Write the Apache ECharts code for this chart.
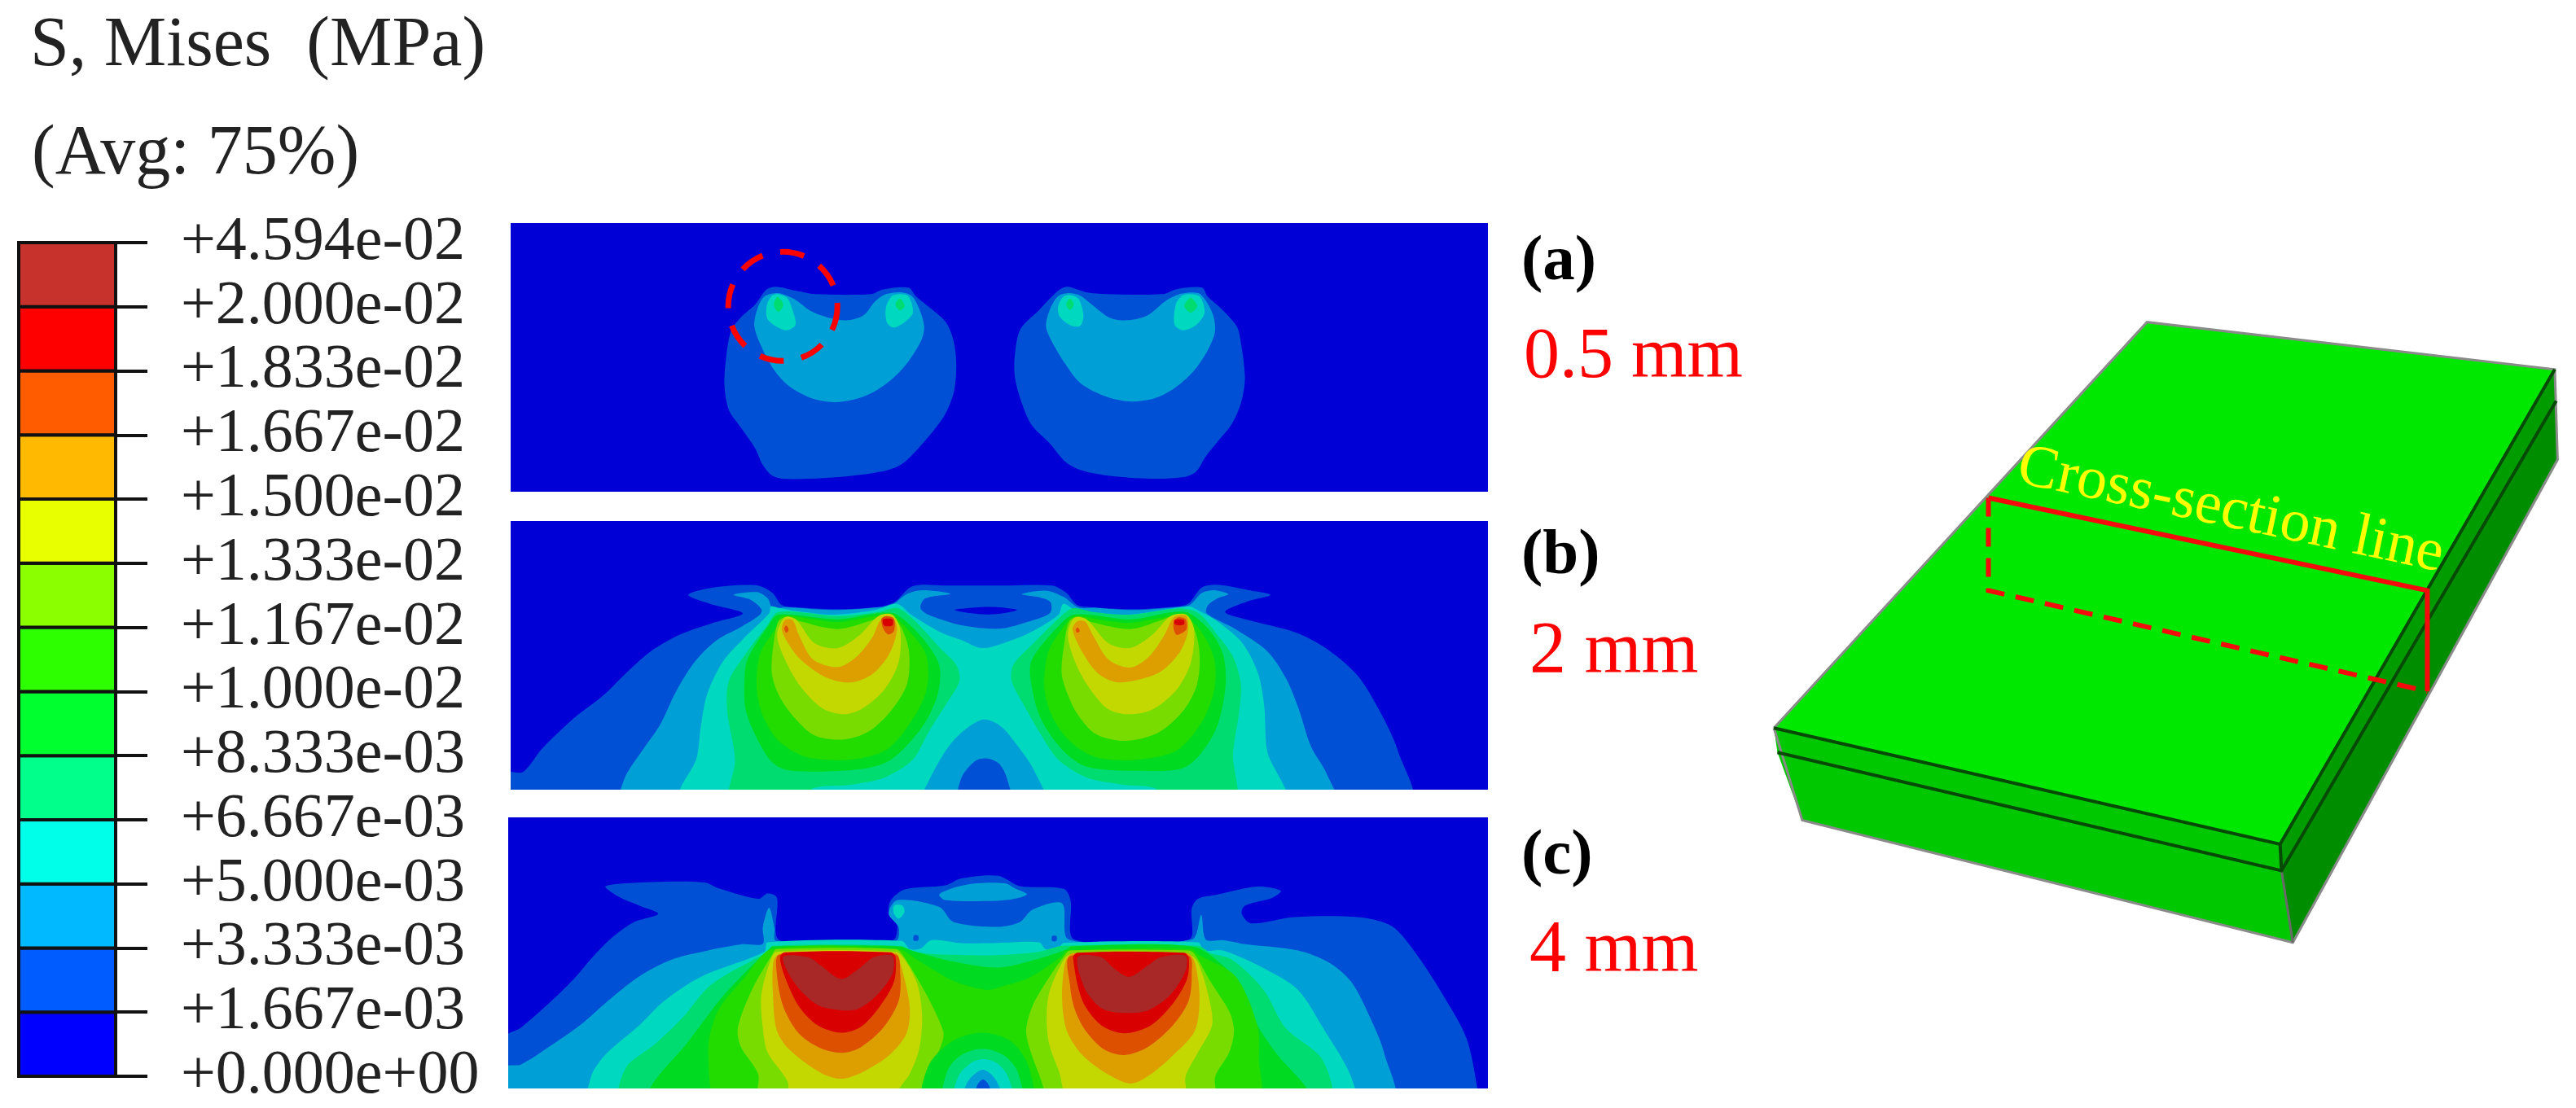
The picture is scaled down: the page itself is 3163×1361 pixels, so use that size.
<!DOCTYPE html>
<html><head><meta charset="utf-8">
<style>html,body{margin:0;padding:0;background:#fff}#c{width:3163px;height:1361px}</style>
<script src="https://cdn.jsdelivr.net/npm/echarts@6/dist/echarts.min.js"></script>
</head><body><div id="c"></div>
<script>
// ---------- legend ----------
const tickLabels = ['+0.000e+00','+1.667e-03','+3.333e-03','+5.000e-03','+6.667e-03','+8.333e-03','+1.000e-02','+1.167e-02','+1.333e-02','+1.500e-02','+1.667e-02','+1.833e-02','+2.000e-02','+4.594e-02'];
const legendColors = ['#0000ff','#005cff','#00b9ff','#00ffe8','#00ff8b','#00ff2e','#2eff00','#8bff00','#e8ff00','#ffb900','#ff5c00','#ff0000','#c8322d'];
const fieldColors  = ['#0000d6','#0050d6','#009fd6','#00d8c0','#00dc70','#00da20','#22dc00','#78dc00','#c2d800','#dd9f00','#dd5000','#d80000','#a82828'];
const titleLine1 = 'S, Mises  (MPa)';
const titleLine2 = '(Avg: 75%)';
const panelTags = ['(a)','(b)','(c)'];
const panelDepths = ['0.5 mm','2 mm','4 mm'];
const blockCaption = 'Cross-section line';

// ---------- panel (a): contour bands, level = index into fieldColors ----------
const A_L2 = [
 [[245,235],[300,250],[350,262],[500,262],[530,245],[600,238],[620,270],[660,315],[700,365],[720,430],[728,520],[722,620],[700,700],[670,760],[620,840],[580,890],[530,915],[420,935],[270,943],[235,930],[210,890],[190,830],[150,750],[120,690],[108,600],[112,500],[125,400],[150,350],[190,300],[220,245]],
 [[1025,235],[1075,255],[1130,262],[1280,262],[1320,243],[1385,238],[1400,270],[1440,320],[1478,380],[1488,430],[1500,570],[1490,660],[1465,740],[1430,800],[1395,860],[1370,915],[1340,935],[1250,942],[1130,930],[1060,910],[1020,880],[980,815],[930,745],[905,670],[885,570],[885,480],[900,390],[950,320],[1000,250]]
];
const A_L3 = [
 [[250,258],[275,268],[300,285],[340,325],[390,350],[440,358],[480,340],[510,290],[540,262],[580,255],[610,270],[630,320],[642,380],[635,430],[600,510],[560,570],[510,620],[460,648],[400,660],[340,645],[280,600],[240,540],[205,450],[188,380],[195,320],[215,270]],
 [[1030,258],[1060,268],[1090,300],[1140,350],[1190,358],[1240,340],[1290,285],[1330,260],[1375,258],[1395,285],[1415,340],[1420,400],[1400,470],[1360,550],[1310,610],[1260,645],[1195,658],[1130,640],[1060,590],[1020,520],[985,440],[968,380],[978,320],[1000,270]]
];
const A_L4 = [
 [[250,262],[275,275],[290,320],[298,375],[275,395],[245,380],[222,350],[222,300],[235,268]],
 [[575,262],[600,270],[612,330],[590,365],[560,385],[542,365],[540,310],[555,270]],
 [[1030,265],[1055,280],[1068,340],[1060,378],[1035,378],[1005,345],[1000,310],[1012,275]],
 [[1350,262],[1380,272],[1392,330],[1370,375],[1335,395],[1312,375],[1315,300],[1330,270]]
];
const A_L5 = [
 [[250,272],[265,300],[252,328],[240,300]],
 [[577,278],[590,305],[577,322],[565,300]],
 [[1032,278],[1042,300],[1032,320],[1022,300]],
 [[1355,275],[1372,305],[1355,330],[1338,305]]
];
const A_MARK = [[264,307,146]];

// ---------- panel (b) ----------
const B_L2 = [[[-10,928],[40,925],[100,840],[200,730],[300,640],[380,550],[450,480],[540,420],[650,375],[745,340],[640,305],[570,272],[650,245],[790,237],[840,265],[870,310],[920,318],[1040,325],[1170,318],[1230,300],[1290,240],[1400,238],[1568,238],[1738,238],[1783,265],[1818,310],[1868,318],[1988,325],[2108,318],[2173,305],[2218,245],[2268,235],[2368,255],[2438,272],[2368,295],[2293,335],[2368,365],[2518,410],[2618,470],[2718,570],[2798,720],[2848,850],[2883,1040],[-10,1040]]];
const B_SLIT = [[[1425,328],[1500,318],[1568,318],[1625,328],[1568,342],[1500,343]]];
const B_L3 = [[[358,1040],[365,950],[420,850],[480,750],[530,630],[590,520],[660,440],[740,390],[800,345],[805,325],[770,290],[715,272],[790,262],[825,285],[840,320],[880,318],[1040,328],[1180,318],[1225,308],[1270,270],[1320,255],[1410,268],[1330,285],[1315,320],[1340,345],[1450,385],[1568,397],[1650,375],[1730,340],[1733,300],[1700,282],[1640,270],[1720,257],[1775,280],[1820,318],[1880,320],[1990,328],[2110,320],[2178,310],[2218,265],[2258,255],[2303,270],[2268,285],[2238,310],[2233,340],[2328,400],[2428,480],[2488,580],[2528,690],[2568,830],[2618,930],[2643,1040]]];
const B_L4 = [[[540,1040],[545,985],[595,880],[610,760],[630,640],[680,520],[750,430],[830,340],[835,315],[860,320],[920,332],[1040,345],[1170,328],[1240,305],[1285,345],[1380,410],[1450,440],[1510,468],[1568,455],[1668,410],[1758,345],[1773,305],[1808,325],[1868,338],[1988,345],[2108,325],[2178,315],[2208,330],[2268,370],[2348,450],[2398,560],[2418,680],[2428,850],[2483,1040]]];
const B_ARCH_L3 = [[[1322,1040],[1345,950],[1420,810],[1510,733],[1568,752],[1628,830],[1680,920],[1713,1040]]];
const B_ARCH_L2 = [[[1440,1040],[1445,950],[1490,885],[1530,875],[1568,895],[1593,950],[1603,1040]]];
const B_L5 = [
 [[705,1040],[720,880],[695,700],[700,590],[760,480],[820,390],[860,335],[1050,350],[1180,335],[1240,320],[1290,360],[1380,470],[1430,530],[1440,590],[1400,670],[1340,780],[1290,880],[1200,945],[1090,972],[970,985],[940,1040]],
 [[2323,1040],[2318,860],[2338,700],[2343,600],[2318,500],[2268,420],[2208,340],[2148,322],[1988,345],[1868,335],[1803,322],[1758,360],[1678,450],[1613,530],[1608,590],[1648,680],[1698,780],[1758,880],[1848,945],[1968,972],[2068,985],[2098,1040]]
];
const B_L6 = [
 [[750,600],[760,510],[830,380],[860,345],[1050,362],[1190,338],[1240,345],[1320,430],[1375,530],[1370,640],[1320,760],[1220,880],[1120,915],[900,920],[840,890],[790,800],[755,700]],
 [[1668,580],[1673,510],[1748,400],[1808,345],[1988,362],[2128,335],[2178,340],[2248,410],[2288,500],[2293,620],[2258,780],[2168,905],[2018,920],[1848,905],[1768,840],[1698,720]]
];
const B_L7 = [
 [[790,620],[800,490],[850,395],[870,350],[960,360],[1050,372],[1170,350],[1220,345],[1290,420],[1335,500],[1335,620],[1290,730],[1210,840],[1100,878],[950,870],[860,810],[810,720]],
 [[1713,620],[1723,490],[1768,400],[1808,352],[1898,365],[1988,375],[2098,355],[2158,345],[2218,410],[2258,510],[2258,620],[2218,740],[2138,845],[2008,880],[1878,870],[1793,810],[1738,720]]
];
const B_L8 = [
 [[838,560],[845,440],[860,370],[890,352],[930,370],[1050,398],[1160,365],[1210,345],[1250,385],[1278,480],[1272,600],[1220,700],[1150,775],[1070,805],[975,790],[900,710],[860,640]],
 [[1768,560],[1778,440],[1793,370],[1823,352],[1863,372],[1988,398],[2088,365],[2143,345],[2188,385],[2210,480],[2203,600],[2158,700],[2078,780],[1973,810],[1878,785],[1818,710],[1788,640]]
];
const B_L9 = [
 [[855,420],[880,355],[915,362],[975,450],[1050,468],[1120,420],[1180,350],[1225,345],[1250,400],[1245,520],[1200,620],[1130,690],[1070,712],[1000,690],[930,610],[880,510]],
 [[1788,420],[1808,358],[1848,362],[1918,450],[1988,468],[2058,420],[2118,350],[2168,345],[2193,400],[2183,520],[2138,620],[2058,695],[1978,712],[1913,690],[1848,600],[1808,510]]
];
const B_L10 = [
 [[870,400],[880,365],[905,365],[925,420],[970,510],[1050,538],[1110,500],[1160,430],[1190,360],[1225,355],[1240,400],[1215,490],[1160,565],[1090,595],[1010,575],[930,510],[890,450]],
 [[1803,400],[1818,370],[1843,370],[1868,420],[1918,510],[1988,540],[2048,500],[2098,420],[2128,355],[2168,350],[2173,410],[2143,490],[2078,560],[1953,595],[1888,565],[1838,490]]
];
const B_L11 = [
 [[1190,360],[1205,350],[1230,360],[1230,405],[1212,418],[1195,395]],
 [[878,395],[885,385],[892,400],[885,412]],
 [[2128,370],[2143,355],[2166,362],[2168,400],[2138,420],[2128,400]],
 [[1813,400],[1820,392],[1826,405],[1818,412]]
];
const B_L12 = [
 [[1195,362],[1225,362],[1225,385],[1198,385]],
 [[2130,365],[2160,365],[2160,382],[2133,382]]
];

// ---------- panel (c) ----------
const C_L2 = [[[-10,795],[40,760],[130,670],[210,580],[270,500],[330,430],[400,372],[480,340],[420,310],[350,275],[312,238],[500,222],[630,225],[670,245],[800,285],[830,265],[860,280],[870,438],[1230,438],[1245,385],[1218,340],[1225,290],[1270,250],[1400,235],[1450,210],[1568,200],[1638,238],[1778,248],[1800,290],[1813,435],[2178,435],[2188,320],[2208,285],[2268,270],[2398,240],[2473,255],[2448,280],[2358,310],[2348,340],[2378,375],[2518,352],[2718,352],[2828,385],[2908,490],[2998,650],[3068,800],[3103,990],[3103,1040],[-10,1040]]];
const C_CAP = [[[1380,268],[1440,240],[1500,228],[1590,228],[1620,245],[1660,268],[1620,285],[1568,292],[1400,290]]];
const C_L3 = [[[-10,905],[40,895],[130,830],[230,750],[330,650],[420,570],[520,510],[640,475],[750,452],[815,450],[815,390],[835,318],[852,390],[858,440],[1240,440],[1250,390],[1218,340],[1245,290],[1380,315],[1425,370],[1568,388],[1638,370],[1678,325],[1773,302],[1795,435],[2188,435],[2218,345],[2233,435],[2288,437],[2348,450],[2528,475],[2628,520],[2698,590],[2758,720],[2803,850],[2826,1040],[-10,1040]]];
const C_SPOT_L4 = [[[1235,310],[1262,310],[1268,335],[1250,358],[1235,340]]];
const C_L4 = [[[265,1040],[265,940],[310,860],[420,750],[500,660],[620,570],[820,480],[830,445],[1260,440],[1285,470],[1320,468],[1355,437],[1450,448],[1568,447],[1700,445],[1720,470],[1758,470],[1778,447],[2208,445],[2228,475],[2288,475],[2418,540],[2528,620],[2608,760],[2698,940],[2703,1040]]];
const C_DOT_L2 = [[[1298,420],[1312,420],[1312,438],[1298,438]],[[1741,422],[1755,422],[1755,440],[1741,440]]];
const C_L5 = [[[365,1040],[375,910],[470,820],[560,720],[650,600],[830,480],[845,458],[1255,458],[1300,480],[1400,490],[1568,492],[1698,480],[1778,458],[2208,458],[2248,485],[2318,510],[2418,620],[2488,760],[2608,880],[2623,1040]]];
const C_L6 = [[[450,1040],[460,970],[570,820],[690,640],[835,470],[850,460],[1250,460],[1300,478],[1420,515],[1568,538],[1700,505],[1790,470],[1800,460],[2188,460],[2288,530],[2348,620],[2398,750],[2463,860],[2558,985],[2565,1040]]];
const C_L7 = [[[685,1040],[640,850],[670,700],[760,570],[845,470],[1250,470],[1310,510],[1430,590],[1530,620],[1568,612],[1668,575],[1768,500],[1790,475],[2188,470],[2208,490],[2328,570],[2398,750],[2403,870],[2393,1040]]];
const C_L8 = [
 [[805,1040],[800,930],[745,830],[735,760],[780,620],[845,490],[860,470],[1240,470],[1265,495],[1340,640],[1392,770],[1390,810],[1340,960],[1340,1040]],
 [[1716,1040],[1713,980],[1673,850],[1658,770],[1678,680],[1728,580],[1783,490],[1798,475],[2178,475],[2198,490],[2248,590],[2308,700],[2323,770],[2308,850],[2263,940],[2258,1040]]
];
const C_L9 = [
 [[900,1040],[895,960],[830,850],[815,760],[810,640],[840,510],[860,480],[1240,480],[1270,510],[1310,600],[1325,720],[1315,840],[1285,930],[1250,990],[1250,1040]],
 [[1803,1040],[1763,920],[1728,800],[1728,650],[1768,530],[1798,490],[2178,490],[2208,520],[2243,650],[2253,750],[2208,850],[2168,940],[2166,1040]]
];
const C_L10 = [
 [[850,510],[880,485],[1240,485],[1255,520],[1285,680],[1275,780],[1220,860],[1130,925],[1065,947],[1000,925],[900,840],[860,770],[848,650]],
 [[1773,650],[1783,520],[1808,485],[2173,485],[2198,520],[2213,650],[2198,770],[2138,850],[2058,930],[1993,965],[1918,930],[1838,860],[1788,770]]
];
const C_L11 = [
 [[860,560],[868,490],[1240,490],[1255,560],[1250,660],[1200,760],[1130,830],[1070,852],[1000,835],[930,780],[880,680]],
 [[1798,600],[1800,495],[2178,495],[2188,560],[2178,660],[2128,750],[2048,830],[1973,860],[1908,840],[1848,770],[1813,690]]
];
const C_L12 = [
 [[870,500],[885,482],[1225,482],[1240,500],[1235,590],[1190,680],[1130,755],[1065,778],[990,750],[930,680],[885,570]],
 [[1808,500],[1823,483],[2163,483],[2178,500],[2173,580],[2128,670],[2058,750],[1973,780],[1898,750],[1838,660]]
];
const C_L13 = [
 [[880,500],[960,500],[1000,530],[1065,580],[1125,540],[1170,500],[1230,495],[1230,560],[1180,640],[1120,690],[1065,695],[990,675],[920,600]],
 [[1823,500],[1898,500],[1938,540],[1988,572],[2048,530],[2088,500],[2168,495],[2168,550],[2118,640],[2048,695],[1978,705],[1903,690],[1848,620]]
];
const C_RING_L6 = [[[1332,1040],[1345,900],[1420,810],[1518,778],[1610,810],[1665,900],[1673,1040]]];
const C_RING_L5 = [[[1397,1040],[1405,920],[1450,860],[1518,837],[1585,860],[1630,920],[1640,1040]]];
const C_RING_L4 = [[[1428,1040],[1440,940],[1480,890],[1518,875],[1565,890],[1600,940],[1613,1040]]];
const C_RING_L3 = [[[1457,1040],[1470,960],[1518,914],[1560,950],[1582,1040]]];
const C_RING_L2 = [[[1491,1040],[1500,975],[1520,950],[1540,975],[1548,1040]]];

// ---------- block sketch ----------
const BLOCK_TOP = [[962,25],[1538,118],[1150,1050],[435,822]];
const BLOCK_FRONT_UP = [[435,822],[1150,1050],[1152,1102],[440,870]];
const BLOCK_FRONT_LOW = [[440,870],[1152,1102],[1168,1243],[475,1003]];
const BLOCK_SIDE_UP = [[1150,1050],[1538,118],[1540,180],[1152,1102]];
const BLOCK_SIDE_LOW = [[1152,1102],[1540,180],[1542,295],[1168,1243]];
const BLOCK_OUTLINE = [[435,822],[962,25],[1538,118],[1542,295],[1168,1243],[475,1003],[435,822]];
const BLOCK_EDGE_REAR = [[1152,1102],[1168,1243]];
const BLOCK_SEAMS = [[[435,822],[1150,1050],[1538,118]],[[440,870],[1152,1102],[1540,180]],[[1150,1050],[1152,1102]]];
const SECTION_SOLID = [[738,370],[1358,552],[1358,750]];
const SECTION_DASHED = [[738,370],[738,552],[1358,750]];
const CAPTION_AT = [1080,396];

// ---------- rendering ----------
const serif = '"Liberation Serif","Times New Roman",serif';
function bandSeries(axisIndex, layers){
  const polys = [];
  layers.forEach(function(l){ l[1].forEach(function(p){ polys.push({points:p, color:fieldColors[l[0]-1]}); }); });
  return {
    type:'custom', xAxisIndex:axisIndex, yAxisIndex:axisIndex, clip:true, silent:true,
    data: polys.map(function(_,i){ return [i]; }),
    encode:{x:0},
    renderItem:function(params, api){
      const p = polys[api.value(0)];
      return {type:'polygon', shape:{points:p.points.map(function(q){return api.coord(q);}), smooth:0.3, smoothConstraint:false}, style:{fill:p.color, stroke:null}};
    }
  };
}
function faceSeries(axisIndex, list){
  return {
    type:'custom', xAxisIndex:axisIndex, yAxisIndex:axisIndex, silent:true,
    data:list.map(function(_,i){return [i];}), encode:{x:0},
    renderItem:function(params, api){
      const f = list[api.value(0)];
      const pts = f.points.map(function(q){return api.coord(q);});
      if(f.fill) return {type:'polygon', shape:{points:pts}, style:{fill:f.fill, stroke:null}};
      return {type:'polyline', shape:{points:pts}, style:{fill:null, stroke:f.stroke, lineWidth:f.width, lineDash:f.dash||null}};
    }
  };
}

const grids = [
  {left:23, top:298, width:119, height:1024},
  {left:627, top:274, width:1200, height:330, show:true, backgroundColor:fieldColors[0], borderWidth:0},
  {left:627, top:640, width:1200, height:330, show:true, backgroundColor:fieldColors[0], borderWidth:0},
  {left:624, top:1004, width:1203, height:333, show:true, backgroundColor:fieldColors[0], borderWidth:0},
  {left:1800, top:380, width:1363, height:981}
];
const hiddenX = function(i,min,max){ return {type:'value', gridIndex:i, min:min, max:max, show:false}; };
const hiddenY = function(i,min,max){ return {type:'value', gridIndex:i, min:min, max:max, inverse:true, show:false}; };

const option = {
  animation:false, backgroundColor:'#ffffff',
  grid:grids,
  xAxis:[ hiddenX(0,0,1), hiddenX(1,-464,2150), hiddenX(2,0,3136), hiddenX(3,0,3136), hiddenX(4,0,1568) ],
  yAxis:[
    {type:'value', gridIndex:0, min:0, max:13, interval:1, position:'right',
     axisLine:{show:true, onZero:false, lineStyle:{color:'#111', width:4}},
     axisTick:{show:true, length:39, lineStyle:{color:'#111', width:4}},
     splitLine:{show:false}, minorTick:{show:false},
     axisLabel:{show:true, margin:80, fontFamily:serif, fontSize:76, color:'#222', align:'left', padding:[0,0,8,0],
       showMinLabel:true, showMaxLabel:true, hideOverlap:false,
       formatter:function(v){ return tickLabels[Math.round(v)]; }}},
    hiddenY(1,0,990), hiddenY(2,0,990), hiddenY(3,-15,983), hiddenY(4,0,1568)
  ],
  series:[
    {type:'custom', xAxisIndex:0, yAxisIndex:0, silent:true, clip:false,
     data:legendColors.map(function(_,i){return [i];}), encode:{y:0},
     renderItem:function(params, api){
       const i = api.value(0), lo = api.coord([0,i]), hi = api.coord([1,i+1]);
       return {type:'rect', shape:{x:lo[0], y:hi[1], width:hi[0]-lo[0], height:lo[1]-hi[1]},
               style:{fill:legendColors[i], stroke:'#111', lineWidth:4}};
     }},
    bandSeries(1,[[2,A_L2],[3,A_L3],[4,A_L4],[5,A_L5]]),
    {type:'custom', xAxisIndex:1, yAxisIndex:1, silent:true, data:A_MARK, encode:{x:0,y:1},
     renderItem:function(params, api){
       const c = api.coord([api.value(0),api.value(1)]);
       const r = api.size([api.value(2),0])[0];
       return {type:'circle', shape:{cx:c[0], cy:c[1], r:r}, style:{fill:null, stroke:'#ff0000', lineWidth:7, lineDash:[30,22]}};
     }},
    bandSeries(2,[[2,B_L2],[1,B_SLIT],[3,B_L3],[4,B_L4],[3,B_ARCH_L3],[2,B_ARCH_L2],[5,B_L5],[6,B_L6],[7,B_L7],[8,B_L8],[9,B_L9],[10,B_L10],[11,B_L11],[12,B_L12]]),
    bandSeries(3,[[2,C_L2],[3,C_CAP],[3,C_L3],[4,C_SPOT_L4],[4,C_L4],[2,C_DOT_L2],[5,C_L5],[6,C_L6],[7,C_L7],[8,C_L8],[9,C_L9],[10,C_L10],[11,C_L11],[12,C_L12],[13,C_L13],[6,C_RING_L6],[5,C_RING_L5],[4,C_RING_L4],[3,C_RING_L3],[2,C_RING_L2]]),
    faceSeries(4,[
      {points:BLOCK_TOP, fill:'#00e800'},
      {points:BLOCK_FRONT_UP, fill:'#00c800'},
      {points:BLOCK_FRONT_LOW, fill:'#00c800'},
      {points:BLOCK_SIDE_UP, fill:'#009c00'},
      {points:BLOCK_SIDE_LOW, fill:'#008e00'},
      {points:BLOCK_OUTLINE, stroke:'#8a8a8a', width:3},
      {points:BLOCK_EDGE_REAR, stroke:'#6a6a6a', width:3},
      {points:BLOCK_SEAMS[0], stroke:'#064a06', width:4},
      {points:BLOCK_SEAMS[1], stroke:'#064a06', width:4},
      {points:BLOCK_SEAMS[2], stroke:'#064a06', width:4},
      {points:SECTION_DASHED, stroke:'#f40c0c', width:6, dash:[23,14]},
      {points:SECTION_SOLID, stroke:'#f40c0c', width:6}
    ]),
    {type:'custom', xAxisIndex:4, yAxisIndex:4, silent:true, data:[CAPTION_AT], encode:{x:0,y:1},
     renderItem:function(params, api){
       const c = api.coord([api.value(0),api.value(1)]);
       return {type:'text', x:c[0], y:c[1], rotation:-11.9*Math.PI/180,
               style:{text:blockCaption, font:'74px '+serif, fill:'#ffff00', align:'center', verticalAlign:'middle'}};
     }}
  ],
  graphic:{elements:[
    txt(titleLine1, 37, 81, 86, '#222'),
    txt(titleLine2, 39, 214, 86, '#222'),
    txt(panelTags[0], 1868, 344, 79, '#000', 'bold'),
    txt(panelDepths[0], 1871, 464, 88, '#ff0000'),
    txt(panelTags[1], 1868, 705, 79, '#000', 'bold'),
    txt(panelDepths[1], 1878, 827, 90, '#ff0000'),
    txt(panelTags[2], 1868, 1074, 79, '#000', 'bold'),
    txt(panelDepths[2], 1878, 1194, 90, '#ff0000')
  ]}
};
function txt(s,x,base,size,color,weight){
  return {type:'text', x:x, y:base-size*0.27, silent:true,
    style:{text:s, fill:color, font:(weight?weight+' ':'')+size+'px '+serif, align:'left', verticalAlign:'middle'}};
}
echarts.init(document.getElementById('c')).setOption(option);
</script>
</body></html>
